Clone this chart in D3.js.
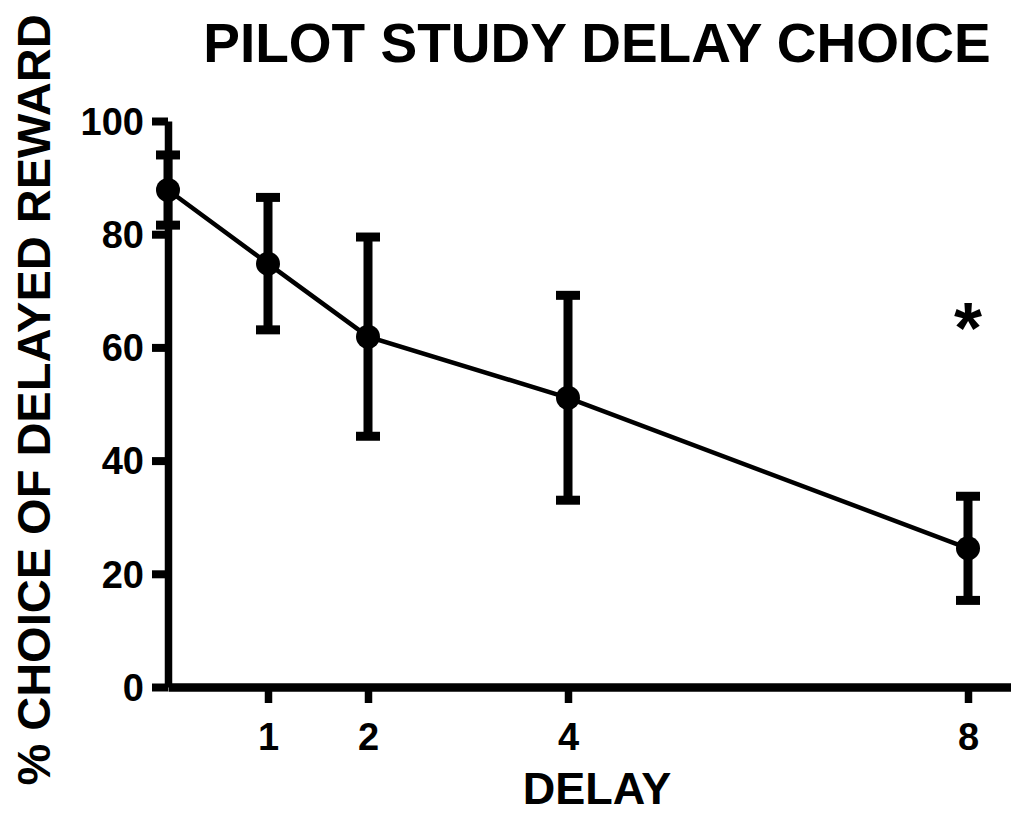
<!DOCTYPE html>
<html>
<head>
<meta charset="utf-8">
<script src="https://cdn.jsdelivr.net/npm/d3@7"></script>
<style>
  html, body { margin: 0; padding: 0; background: #ffffff; }
  svg { display: block; }
  text { font-family: "Liberation Sans", Arial, Helvetica, sans-serif; font-weight: bold; fill: #000; }
</style>
</head>
<body>
<svg id="chart" width="1011" height="814"></svg>
<script>
// Pilot study: % choice of the delayed reward at each delay (mean ± SEM)
const delays = [0, 1, 2, 4, 8];
const meanChoice = [87.8, 74.8, 61.9, 51.1, 24.5];
const semChoice = [6.2, 11.7, 17.6, 18.1, 9.2];
const xTickValues = [1, 2, 4, 8];
const yTickValues = [0, 20, 40, 60, 80, 100];
const significantDelays = [8];

const titleText = "PILOT STUDY DELAY CHOICE";
const xLabelText = "DELAY";
const yLabelText = "% CHOICE OF DELAYED REWARD";

const svg = d3.select("#chart");

const x = d3.scaleLinear().domain([0, 8.43]).range([168, 1011]);
const y = d3.scaleLinear().domain([0, 100]).range([687, 121]);

// Y axis
const yAxis = svg.append("g")
  .attr("transform", `translate(${x(0)},0)`)
  .call(d3.axisLeft(y).tickValues(yTickValues).tickSize(16).tickSizeOuter(0).tickPadding(8));
yAxis.select(".domain").attr("stroke", "#000").attr("stroke-width", 7.5);
yAxis.selectAll(".tick line").attr("stroke", "#000").attr("stroke-width", 8);
yAxis.selectAll(".tick text")
  .attr("font-size", 38).attr("font-family", "Liberation Sans, Arial, sans-serif")
  .attr("font-weight", "bold").attr("fill", "#000").attr("dy", "0.35em");

// X axis
const xAxis = svg.append("g")
  .attr("transform", `translate(0,${y(0)})`)
  .call(d3.axisBottom(x).tickValues(xTickValues).tickSize(16).tickSizeOuter(0).tickPadding(20));
xAxis.select(".domain").attr("stroke", "#000").attr("stroke-width", 8.5);
xAxis.selectAll(".tick line").attr("stroke", "#000").attr("stroke-width", 7.5);
xAxis.selectAll(".tick text")
  .attr("font-size", 38).attr("font-family", "Liberation Sans, Arial, sans-serif")
  .attr("font-weight", "bold").attr("fill", "#000");

const data = delays.map((d, i) => ({ delay: d, mean: meanChoice[i], sem: semChoice[i] }));

// Error bars
const capHalf = 12;
const err = svg.append("g").attr("stroke", "#000");
err.selectAll("line.stem").data(data).join("line")
  .attr("class", "stem")
  .attr("x1", d => x(d.delay)).attr("x2", d => x(d.delay))
  .attr("y1", d => y(d.mean + d.sem)).attr("y2", d => y(d.mean - d.sem))
  .attr("stroke-width", 9);
err.selectAll("line.capTop").data(data).join("line")
  .attr("class", "capTop")
  .attr("x1", d => x(d.delay) - capHalf).attr("x2", d => x(d.delay) + capHalf)
  .attr("y1", d => y(d.mean + d.sem)).attr("y2", d => y(d.mean + d.sem))
  .attr("stroke-width", 9);
err.selectAll("line.capBot").data(data).join("line")
  .attr("class", "capBot")
  .attr("x1", d => x(d.delay) - capHalf).attr("x2", d => x(d.delay) + capHalf)
  .attr("y1", d => y(d.mean - d.sem)).attr("y2", d => y(d.mean - d.sem))
  .attr("stroke-width", 9);

// Connecting line
const line = d3.line().x(d => x(d.delay)).y(d => y(d.mean));
svg.append("path").datum(data)
  .attr("d", line).attr("fill", "none").attr("stroke", "#000").attr("stroke-width", 4.5);

// Points
svg.append("g").selectAll("circle").data(data).join("circle")
  .attr("cx", d => x(d.delay)).attr("cy", d => y(d.mean)).attr("r", 12)
  .attr("fill", "#000");

// Significance marker
svg.append("g").selectAll("text").data(significantDelays).join("text")
  .attr("x", d => x(d)).attr("y", y(59))
  .attr("text-anchor", "middle").attr("font-size", 72)
  .text("*");

// Title and axis labels
svg.append("text").attr("x", 597).attr("y", 62)
  .attr("text-anchor", "middle").attr("font-size", 55).text(titleText);

svg.append("text").attr("x", 597).attr("y", 804)
  .attr("text-anchor", "middle").attr("font-size", 45).text(xLabelText);

svg.append("text")
  .attr("transform", "translate(50,400) rotate(-90)")
  .attr("text-anchor", "middle").attr("font-size", 47).text(yLabelText);
</script>
</body>
</html>
